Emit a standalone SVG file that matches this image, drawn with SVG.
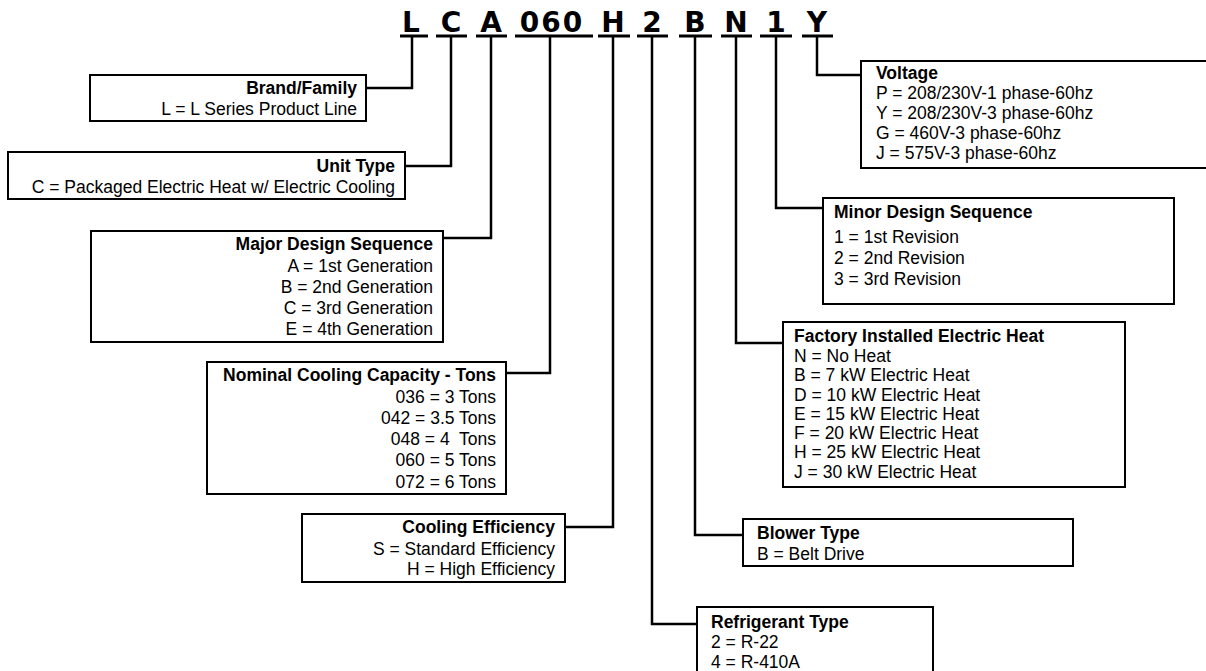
<svg xmlns="http://www.w3.org/2000/svg" width="1206" height="671" viewBox="0 0 1206 671">
<style>
.box{fill:#fff;stroke:#000;stroke-width:2}
.t{font-family:"Liberation Sans",Arial,sans-serif;font-size:17.5px;fill:#000}
.b{font-weight:bold}
.r{text-anchor:end}
.code{font-family:"DejaVu Sans",sans-serif;font-weight:bold;font-size:28px;text-anchor:middle;fill:#000}
.ul{stroke:#000;stroke-width:3}
.c{fill:none;stroke:#000;stroke-width:2.5}
</style>
<rect width="1206" height="671" fill="#fff"/>
<g id="code">
<text class="code" x="411" y="32">L</text>
<text class="code" x="451" y="32">C</text>
<text class="code" x="491" y="32">A</text>
<text class="code" x="552" y="32" letter-spacing="2">060</text>
<text class="code" x="613" y="32">H</text>
<text class="code" x="652" y="32">2</text>
<text class="code" x="695" y="32">B</text>
<text class="code" x="736" y="32">N</text>
<text class="code" x="776" y="32">1</text>
<text class="code" x="817" y="32">Y</text>
<line class="ul" x1="400" y1="36" x2="428" y2="36"/>
<line class="ul" x1="436" y1="36" x2="467" y2="36"/>
<line class="ul" x1="476" y1="36" x2="507" y2="36"/>
<line class="ul" x1="515" y1="36" x2="593" y2="36"/>
<line class="ul" x1="598" y1="36" x2="630" y2="36"/>
<line class="ul" x1="637" y1="36" x2="668" y2="36"/>
<line class="ul" x1="679" y1="36" x2="712" y2="36"/>
<line class="ul" x1="721" y1="36" x2="752" y2="36"/>
<line class="ul" x1="760" y1="36" x2="792" y2="36"/>
<line class="ul" x1="802" y1="36" x2="833" y2="36"/>
</g>
<g id="connectors">
<polyline class="c" points="412,36 412,88 366,88"/>
<polyline class="c" points="451,36 451,166 405,166"/>
<polyline class="c" points="491,36 491,238 443,238"/>
<polyline class="c" points="550,36 550,373 506,373"/>
<polyline class="c" points="613,36 613,527 565,527"/>
<polyline class="c" points="652,36 652,624 697,624"/>
<polyline class="c" points="695,36 695,535 743,535"/>
<polyline class="c" points="736,36 736,343 783,343"/>
<polyline class="c" points="776,36 776,208 823,208"/>
<polyline class="c" points="817,36 817,75 861,75"/>
</g>
<g id="brand">
<rect class="box" x="90" y="75" width="276" height="46"/>
<text class="t b r" x="357" y="94">Brand/Family</text>
<text class="t r" x="357" y="115">L = L Series Product Line</text>
</g>
<g id="unit">
<rect class="box" x="8" y="152" width="397" height="47"/>
<text class="t b r" x="395" y="172">Unit Type</text>
<text class="t r" x="395" y="193">C = Packaged Electric Heat w/ Electric Cooling</text>
</g>
<g id="major">
<rect class="box" x="91" y="231" width="352" height="111"/>
<text class="t b r" x="433" y="250">Major Design Sequence</text>
<text class="t r" x="433" y="272">A = 1st Generation</text>
<text class="t r" x="433" y="293">B = 2nd Generation</text>
<text class="t r" x="433" y="314">C = 3rd Generation</text>
<text class="t r" x="433" y="335">E = 4th Generation</text>
</g>
<g id="capacity">
<rect class="box" x="207" y="362" width="299" height="132"/>
<text class="t b r" x="496" y="381">Nominal Cooling Capacity - Tons</text>
<text class="t r" x="496" y="403">036 = 3 Tons</text>
<text class="t r" x="496" y="424">042 = 3.5 Tons</text>
<text class="t r" x="496" y="445" xml:space="preserve">048 = 4  Tons</text>
<text class="t r" x="496" y="466">060 = 5 Tons</text>
<text class="t r" x="496" y="488">072 = 6 Tons</text>
</g>
<g id="efficiency">
<rect class="box" x="302" y="514" width="263" height="68"/>
<text class="t b r" x="555" y="533">Cooling Efficiency</text>
<text class="t r" x="555" y="555">S = Standard Efficiency</text>
<text class="t r" x="555" y="575">H = High Efficiency</text>
</g>
<g id="voltage">
<rect class="box" x="861" y="61" width="360" height="107"/>
<text class="t b" x="876" y="79">Voltage</text>
<text class="t" x="876" y="99">P = 208/230V-1 phase-60hz</text>
<text class="t" x="876" y="119">Y = 208/230V-3 phase-60hz</text>
<text class="t" x="876" y="139">G = 460V-3 phase-60hz</text>
<text class="t" x="876" y="159">J = 575V-3 phase-60hz</text>
</g>
<g id="minor">
<rect class="box" x="823" y="198" width="351" height="106"/>
<text class="t b" x="834" y="218">Minor Design Sequence</text>
<text class="t" x="834" y="243">1 = 1st Revision</text>
<text class="t" x="834" y="264">2 = 2nd Revision</text>
<text class="t" x="834" y="285">3 = 3rd Revision</text>
</g>
<g id="heat">
<rect class="box" x="783" y="322" width="342" height="165"/>
<text class="t b" x="794" y="342">Factory Installed Electric Heat</text>
<text class="t" x="794" y="362">N = No Heat</text>
<text class="t" x="794" y="381">B = 7 kW Electric Heat</text>
<text class="t" x="794" y="401">D = 10 kW Electric Heat</text>
<text class="t" x="794" y="420">E = 15 kW Electric Heat</text>
<text class="t" x="794" y="439">F = 20 kW Electric Heat</text>
<text class="t" x="794" y="458">H = 25 kW Electric Heat</text>
<text class="t" x="794" y="478">J = 30 kW Electric Heat</text>
</g>
<g id="blower">
<rect class="box" x="743" y="519" width="330" height="47"/>
<text class="t b" x="757" y="539">Blower Type</text>
<text class="t" x="757" y="560">B = Belt Drive</text>
</g>
<g id="refrigerant">
<rect class="box" x="697" y="607" width="236" height="80"/>
<text class="t b" x="711" y="628">Refrigerant Type</text>
<text class="t" x="711" y="648">2 = R-22</text>
<text class="t" x="711" y="668">4 = R-410A</text>
</g>
</svg>
